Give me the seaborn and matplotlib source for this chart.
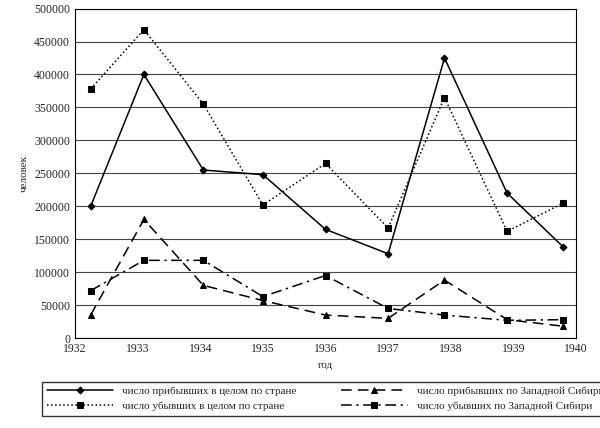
import matplotlib
matplotlib.use("Agg")
import matplotlib.pyplot as plt
import seaborn as sns
import pandas as pd

x_pos = [1932.25, 1933.1, 1934.05, 1935.0, 1936.0, 1937.0, 1937.9, 1938.9, 1939.8]
arr_total = [200000, 400000, 255000, 248000, 165000, 128000, 425000, 220000, 138000]
dep_total = [378000, 468000, 355000, 202000, 265000, 167000, 365000, 162000, 205000]
arr_ws = [35000, 180000, 80000, 57000, 35000, 30000, 88000, 28000, 18000]
dep_ws = [72000, 118000, 118000, 63000, 95000, 45000, 35000, 27000, 28000]
names = ["число прибывших в целом по стране", "число убывших в целом по стране",
         "число прибывших по Западной Сибири", "число убывших по Западной Сибири"]

sns.set_style("white")
plt.rcParams["font.family"] = "Liberation Serif"
fig = plt.figure(figsize=(6, 4.28), dpi=100)
ax = fig.add_axes([0.125, 0.21, 0.835, 0.77])
styles = [("-", "D", 3.5), (":", "s", 5), ((0, (7, 4)), "^", 5), ((0, (7, 3, 1.5, 3)), "s", 5)]
for vals, name, (ls, mk, ms) in zip([arr_total, dep_total, arr_ws, dep_ws], names, styles):
    df = pd.DataFrame({"x": x_pos, "y": vals})
    sns.lineplot(data=df, x="x", y="y", ax=ax, color="black", linestyle=ls, marker=mk,
                 markersize=ms, linewidth=1.1, label=name, markeredgecolor="black")
ax.set_xlim(1932, 1940)
ax.set_ylim(0, 500000)
ax.set_yticks(range(0, 500001, 50000))
ax.set_xticks(range(1932, 1941))
ax.yaxis.grid(True, color="#444444", linewidth=0.8)
ax.tick_params(labelsize=8.5, length=0)
for s in ax.spines.values():
    s.set_color("black"); s.set_linewidth(0.8)
ax.set_xlabel("год", fontsize=8)
ax.set_ylabel("человек", fontsize=8)
ax.legend(loc="upper center", bbox_to_anchor=(0.5, -0.115), ncol=2, fontsize=8,
          frameon=True, edgecolor="black", fancybox=False, handlelength=6, columnspacing=4)
fig.savefig("out.png", dpi=100)
